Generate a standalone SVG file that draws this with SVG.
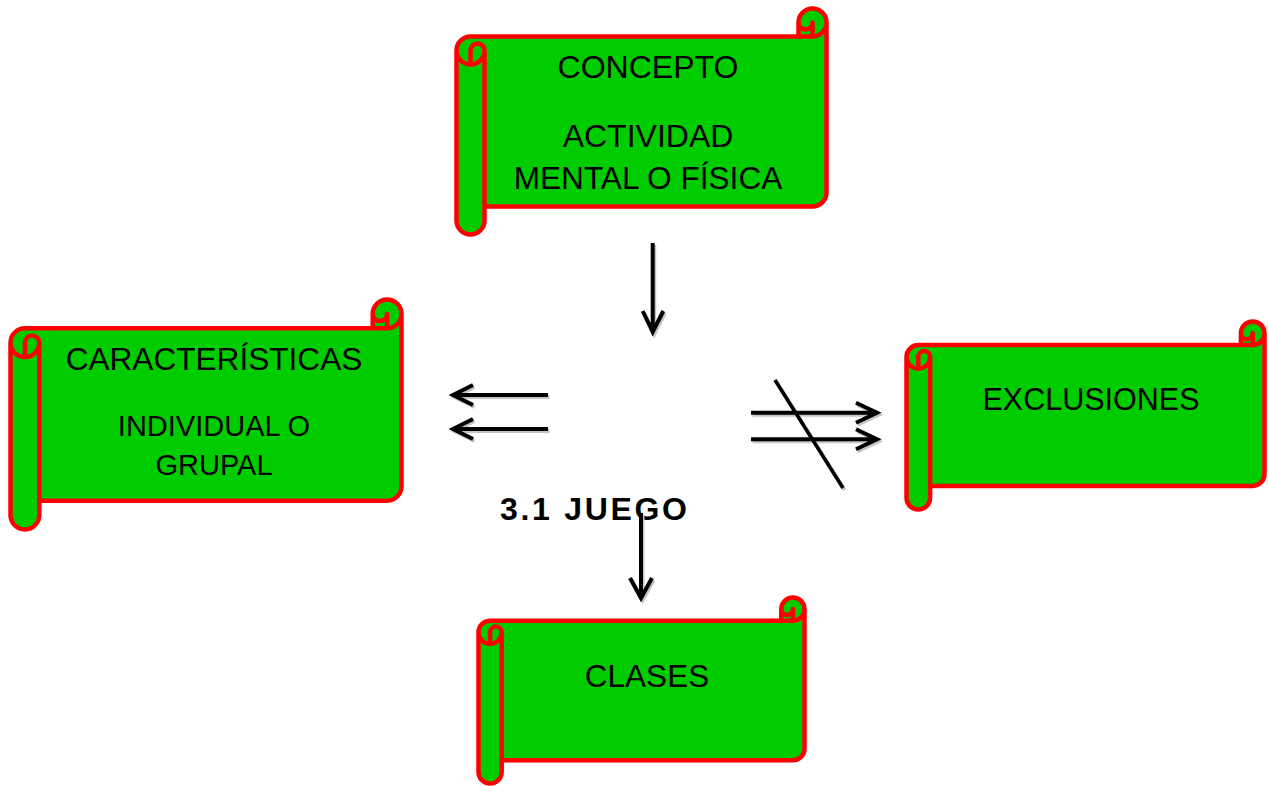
<svg xmlns="http://www.w3.org/2000/svg" width="1269" height="786" viewBox="0 0 1269 786">
<style>
.bg{fill:#00CC00;stroke:none}
.ln{fill:none;stroke:#FF0000;stroke-width:4.5;stroke-linejoin:round;stroke-linecap:round}
.t{font-family:"Liberation Sans",Arial,sans-serif;fill:#000;text-anchor:middle}
.c{fill:none;stroke:#000;stroke-width:4;stroke-linejoin:miter;stroke-linecap:butt}
.s{fill:none;stroke:#c4c4c4;stroke-width:4;stroke-linejoin:miter;stroke-linecap:butt}
</style>
<rect width="1269" height="786" fill="#ffffff"/>
<g id="concepto" transform="translate(456.5,8.5)">
<path class="bg" d="M370,14 A14,14 0 0 1 356,28 L356,14 A7,7 0 0 1 342,14 L342,28 L14,28 A14,14 0 0 0 0,42 L0,212 A14,14 0 0 0 28,212 L28,198 L356,198 A14,14 0 0 0 370,184 Z"/>
<circle class="bg" cx="14" cy="42" r="14"/>
<circle class="bg" cx="356" cy="14" r="14"/>
<path class="ln" d="M0,42 A14,14 0 0 1 14,28 L342,28 L342,14 A14,14 0 0 1 370,14 L370,184 A14,14 0 0 1 356,198 L28,198 L28,212 A14,14 0 0 1 0,212 Z M342,28 L356,28 A14,14 0 0 0 370,14 M356,28 L356,14 A7,7 0 0 1 342,14 M14,56 L14,42 A7,7 0 0 1 28,42 A14,14 0 0 1 0,42 M28,42 L28,198"/>
</g>
<text class="t" x="648" y="78" font-size="32">CONCEPTO</text>
<text class="t" x="648" y="147" font-size="32">ACTIVIDAD</text>
<text class="t" x="648" y="188.5" font-size="31.6">MENTAL O FÍSICA</text>
<g id="caracteristicas" transform="translate(10.5,299.5)">
<path class="bg" d="M391,14.4 A14.4,14.4 0 0 1 376.6,28.8 L376.6,14.4 A7.2,7.2 0 0 1 362.2,14.4 L362.2,28.8 L14.4,28.8 A14.4,14.4 0 0 0 0,43.2 L0,215.6 A14.4,14.4 0 0 0 28.8,215.6 L28.8,201.2 L376.6,201.2 A14.4,14.4 0 0 0 391,186.8 Z"/>
<circle class="bg" cx="14.4" cy="43.2" r="14.4"/>
<circle class="bg" cx="376.6" cy="14.4" r="14.4"/>
<path class="ln" d="M0,43.2 A14.4,14.4 0 0 1 14.4,28.8 L362.2,28.8 L362.2,14.4 A14.4,14.4 0 0 1 391,14.4 L391,186.8 A14.4,14.4 0 0 1 376.6,201.2 L28.8,201.2 L28.8,215.6 A14.4,14.4 0 0 1 0,215.6 Z M362.2,28.8 L376.6,28.8 A14.4,14.4 0 0 0 391,14.4 M376.6,28.8 L376.6,14.4 A7.2,7.2 0 0 1 362.2,14.4 M14.4,57.6 L14.4,43.2 A7.2,7.2 0 0 1 28.8,43.2 A14.4,14.4 0 0 1 0,43.2 M28.8,43.2 L28.8,201.2"/>
</g>
<text class="t" x="214" y="370" font-size="31.6">CARACTERÍSTICAS</text>
<text class="t" x="214" y="436" font-size="29">INDIVIDUAL O</text>
<text class="t" x="214" y="474.5" font-size="29">GRUPAL</text>
<g id="exclusiones" transform="translate(906.5,321.5)">
<path class="bg" d="M358,11.8 A11.8,11.8 0 0 1 346.2,23.6 L346.2,11.8 A5.9,5.9 0 0 1 334.4,11.8 L334.4,23.6 L11.8,23.6 A11.8,11.8 0 0 0 0,35.4 L0,176.2 A11.8,11.8 0 0 0 23.6,176.2 L23.6,164.4 L346.2,164.4 A11.8,11.8 0 0 0 358,152.6 Z"/>
<circle class="bg" cx="11.8" cy="35.4" r="11.8"/>
<circle class="bg" cx="346.2" cy="11.8" r="11.8"/>
<path class="ln" d="M0,35.4 A11.8,11.8 0 0 1 11.8,23.6 L334.4,23.6 L334.4,11.8 A11.8,11.8 0 0 1 358,11.8 L358,152.6 A11.8,11.8 0 0 1 346.2,164.4 L23.6,164.4 L23.6,176.2 A11.8,11.8 0 0 1 0,176.2 Z M334.4,23.6 L346.2,23.6 A11.8,11.8 0 0 0 358,11.8 M346.2,23.6 L346.2,11.8 A5.9,5.9 0 0 1 334.4,11.8 M11.8,47.2 L11.8,35.4 A5.9,5.9 0 0 1 23.6,35.4 A11.8,11.8 0 0 1 0,35.4 M23.6,35.4 L23.6,164.4"/>
</g>
<text class="t" x="1091" y="410" font-size="30.5">EXCLUSIONES</text>
<g id="clases" transform="translate(478.5,597.5)">
<path class="bg" d="M326,11.6 A11.6,11.6 0 0 1 314.4,23.2 L314.4,11.6 A5.8,5.8 0 0 1 302.8,11.6 L302.8,23.2 L11.6,23.2 A11.6,11.6 0 0 0 0,34.8 L0,174.4 A11.6,11.6 0 0 0 23.2,174.4 L23.2,162.8 L314.4,162.8 A11.6,11.6 0 0 0 326,151.2 Z"/>
<circle class="bg" cx="11.6" cy="34.8" r="11.6"/>
<circle class="bg" cx="314.4" cy="11.6" r="11.6"/>
<path class="ln" d="M0,34.8 A11.6,11.6 0 0 1 11.6,23.2 L302.8,23.2 L302.8,11.6 A11.6,11.6 0 0 1 326,11.6 L326,151.2 A11.6,11.6 0 0 1 314.4,162.8 L23.2,162.8 L23.2,174.4 A11.6,11.6 0 0 1 0,174.4 Z M302.8,23.2 L314.4,23.2 A11.6,11.6 0 0 0 326,11.6 M314.4,23.2 L314.4,11.6 A5.8,5.8 0 0 1 302.8,11.6 M11.6,46.4 L11.6,34.8 A5.8,5.8 0 0 1 23.2,34.8 A11.6,11.6 0 0 1 0,34.8 M23.2,34.8 L23.2,162.8"/>
</g>
<text class="t" x="647" y="687" font-size="31.5">CLASES</text>
<g id="juego">
<text x="500" y="519.5" font-family="'Liberation Sans',Arial,sans-serif" font-weight="bold" font-size="32" textLength="187" lengthAdjust="spacing">3.1 JUEGO</text>
</g>
<g id="connectors">
<g transform="translate(1.5,2)">
<path class="s" d="M652.7,243 L652.7,331 M642.7,311 L652.7,332 L663.3,311"/>
<path class="s" d="M548,395 L455,395 M473,385 L453,395 L473,405 M548,429 L455,429 M473,419 L453,429 L473,439"/>
<path class="s" d="M751,412.7 L875,412.7 M856,402.7 L877,412.7 L856,422.7 M751,439.3 L875,439.3 M856,429.3 L877,439.3 L856,449.3"/>
<path class="s" d="M775,380 L843,488"/>
<path class="s" d="M641,513 L641,596 M630,578 L641,598 L652,578"/>
</g>
<path class="c" d="M652.7,243 L652.7,331 M642.7,311 L652.7,332 L663.3,311"/>
<path class="c" d="M548,395 L455,395 M473,385 L453,395 L473,405 M548,429 L455,429 M473,419 L453,429 L473,439"/>
<path class="c" d="M751,412.7 L875,412.7 M856,402.7 L877,412.7 L856,422.7 M751,439.3 L875,439.3 M856,429.3 L877,439.3 L856,449.3"/>
<path class="c" style="stroke-width:3.5" d="M775,380 L843,488"/>
<path class="c" d="M641,513 L641,596 M630,578 L641,598 L652,578"/>
</g>
</svg>
